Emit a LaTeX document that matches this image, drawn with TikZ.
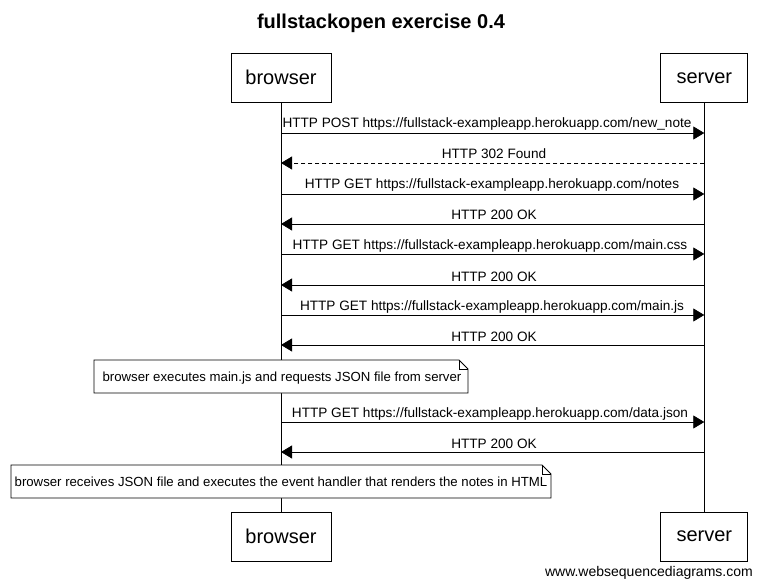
\documentclass[tikz,border=0pt]{standalone}
\usepackage{fontspec}
\setmainfont{Liberation Sans}
\usetikzlibrary{arrows.meta,shapes.misc}
\begin{document}
\begin{tikzpicture}[x=1pt,y=-1pt,
  partbox/.style={draw, line width=0.8pt, minimum height=49pt, inner sep=0pt, font=\fontsize{20}{22}\selectfont},
  msg/.style={line width=0.8pt, -{Triangle[length=11pt,width=13pt]}},
  lbl/.style={font=\fontsize{13.6}{15}\selectfont, inner sep=0pt, anchor=base},
  nlbl/.style={font=\fontsize{13.2}{15}\selectfont, inner sep=0pt, anchor=base},
  life/.style={line width=0.8pt},
  notebox/.style={line width=0.8pt, fill=white}
]
\useasboundingbox (0,0) rectangle (762,585);
\node[font=\bfseries\fontsize{20}{22}\selectfont] (title) at (381,23) {fullstackopen exercise 0.4};
\node[partbox, minimum width=100pt] (bt) at (281,77.5) {browser};
\node[partbox, minimum width=87pt] (st) at (704.3,78) {server};
\node[partbox, minimum width=100pt] (bb) at (281,536.5) {browser};
\node[partbox, minimum width=87pt] (sb) at (704.3,536.5) {server};
\draw[life] (bt.south) -- (bb.north);
\draw[life] (st.south) -- (sb.north);
% messages
\coordinate (b1) at (281,133); \coordinate (s1) at (704.3,133);
\coordinate (b2) at (281,163); \coordinate (s2) at (704.3,163);
\coordinate (b3) at (281,194); \coordinate (s3) at (704.3,194);
\coordinate (b4) at (281,224); \coordinate (s4) at (704.3,224);
\coordinate (b5) at (281,254); \coordinate (s5) at (704.3,254);
\coordinate (b6) at (281,285); \coordinate (s6) at (704.3,285);
\coordinate (b7) at (281,315); \coordinate (s7) at (704.3,315);
\coordinate (b8) at (281,345); \coordinate (s8) at (704.3,345);
\coordinate (b9) at (281,422); \coordinate (s9) at (704.3,422);
\coordinate (b10) at (281,452); \coordinate (s10) at (704.3,452);
\draw[msg] (b1) -- (s1);
\node[lbl] (l1) at (487,128) {HTTP POST https://fullstack-exampleapp.herokuapp.com/new\_note};
\draw[msg, dash pattern=on 4pt off 3pt] (s2) -- (b2);
\node[lbl] (l2) at (494,159) {HTTP 302 Found};
\draw[msg] (b3) -- (s3);
\node[lbl] (l3) at (492,189) {HTTP GET https://fullstack-exampleapp.herokuapp.com/notes};
\draw[msg] (s4) -- (b4);
\node[lbl] (l4) at (494,220) {HTTP 200 OK};
\draw[msg] (b5) -- (s5);
\node[lbl] (l5) at (490,249) {HTTP GET https://fullstack-exampleapp.herokuapp.com/main.css};
\draw[msg] (s6) -- (b6);
\node[lbl] (l6) at (494,281) {HTTP 200 OK};
\draw[msg] (b7) -- (s7);
\node[lbl] (l7) at (492,310) {HTTP GET https://fullstack-exampleapp.herokuapp.com/main.js};
\draw[msg] (s8) -- (b8);
\node[lbl] (l8) at (494,341) {HTTP 200 OK};
\draw[msg] (b9) -- (s9);
\node[lbl] (l9) at (490,417) {HTTP GET https://fullstack-exampleapp.herokuapp.com/data.json};
\draw[msg] (s10) -- (b10);
\node[lbl] (l10) at (494,448) {HTTP 200 OK};
% notes
\draw[notebox] (94,360) -- (459,360) -- (468,369) -- (468,393) -- (94,393) -- cycle;
\draw[line width=0.8pt] (459,360) -- (459,369) -- (468,369);
\node[nlbl] (n1) at (282,381) {browser executes main.js and requests JSON file from server};
\draw[notebox] (11,465) -- (542,465) -- (551,474) -- (551,498) -- (11,498) -- cycle;
\draw[line width=0.8pt] (542,465) -- (542,474) -- (551,474);
\node[nlbl] (n2) at (281,486) {browser receives JSON file and executes the event handler that renders the notes in HTML};
\node[font=\fontsize{14}{16}\selectfont, anchor=base east, inner sep=0pt] (wm) at (753,576) {www.websequencediagrams.com};
\end{tikzpicture}
\end{document}
